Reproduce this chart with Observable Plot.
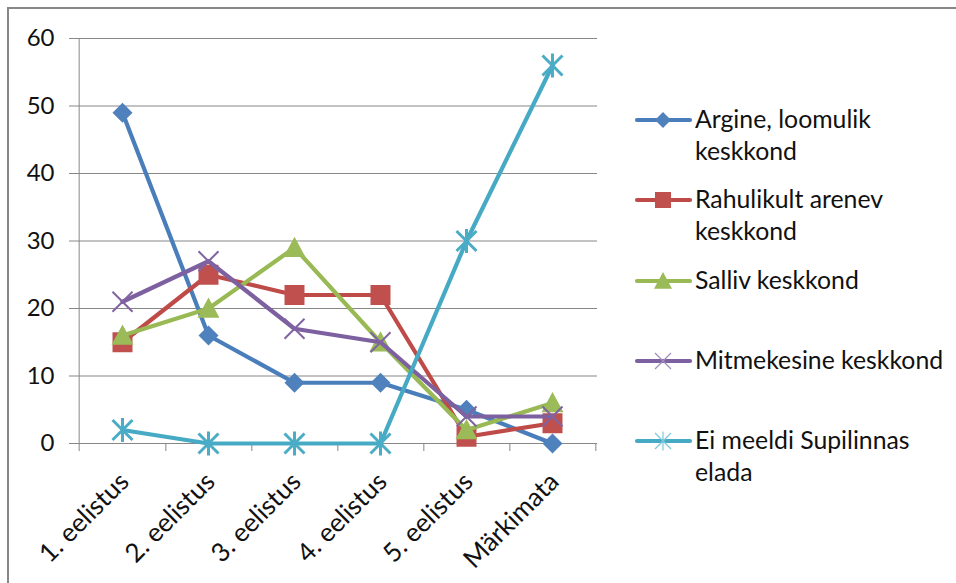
<!DOCTYPE html>
<html><head><meta charset="utf-8">
<script src="https://cdn.jsdelivr.net/npm/d3@7"></script>
<script src="https://cdn.jsdelivr.net/npm/@observablehq/plot@0.6"></script>
<style>
body{margin:0;background:#fff;}
#wrap{position:relative;width:956px;height:583px;overflow:hidden;font-family:Lato,"Open Sans",sans-serif;}
#frame{position:absolute;left:7px;top:7px;width:1000px;height:1000px;border-left:2px solid #878787;border-top:2px solid #878787;}
#chart{position:absolute;left:0;top:0;}
#legend{position:absolute;left:0;top:0;}
</style></head><body>
<div id="wrap"><div id="frame"></div><div id="chart"></div><svg id="legend" width="956" height="583"></svg></div>
<script>
const categories = ["1. eelistus","2. eelistus","3. eelistus","4. eelistus","5. eelistus","Märkimata"];
const seriesNames = ["Argine, loomulik keskkond","Rahulikult arenev keskkond","Salliv keskkond","Mitmekesine keskkond","Ei meeldi Supilinnas elada"];
const legendLines = [["Argine, loomulik","keskkond"],["Rahulikult arenev","keskkond"],["Salliv keskkond"],["Mitmekesine keskkond"],["Ei meeldi Supilinnas","elada"]];
const argine      = [49,16,9,9,5,0];
const rahulikult  = [15,25,22,22,1,3];
const salliv      = [16,20,29,15,2,6];
const mitmekesine = [21,27,17,15,4,4];
const eiMeeldi    = [2,0,0,0,30,56];
const yTicks = [0,10,20,30,40,50,60];

const lineColors   = ["#4A7EBB","#BE4B48","#98B954","#7D60A0","#46AAC5"];
const markerColors = ["#4F81BD","#C0504D","#9BBB59","#8064A2","#4BACC6"];
const allValues = [argine,rahulikult,salliv,mitmekesine,eiMeeldi];

const R = size => Math.sqrt(size/Math.PI);
const symbols = [
  {draw(c,s){const r=R(s);c.moveTo(0,-r);c.lineTo(r,0);c.lineTo(0,r);c.lineTo(-r,0);c.closePath();}},
  {draw(c,s){const r=R(s);c.moveTo(-r,-r);c.lineTo(r,-r);c.lineTo(r,r);c.lineTo(-r,r);c.closePath();}},
  {draw(c,s){const r=R(s);c.moveTo(0,-r);c.lineTo(r,r*0.85);c.lineTo(-r,r*0.85);c.closePath();}},
  {draw(c,s){const r=R(s);c.moveTo(-r,-r);c.lineTo(r,r);c.moveTo(r,-r);c.lineTo(-r,r);}},
  {draw(c,s){const r=R(s);c.moveTo(-r,-r);c.lineTo(r,r);c.moveTo(r,-r);c.lineTo(-r,r);c.moveTo(0,-r*1.2);c.lineTo(0,r*1.2);}}
];
const filled = [true,true,true,false,false];
const markerR = [10,10,11,10,10];
const markerSW = [0,0,0,2,3];

const W=620,H=583,mL=77,mR=23,mT=38,mB=140;
const step=(W-mL-mR)/categories.length;
const grid="#878787";

const marks=[
  Plot.gridY(yTicks,{stroke:grid,strokeOpacity:1,strokeWidth:1}),
  Plot.ruleX([categories[0]],{dx:-step/2,y1:60,y2:0,insetBottom:-8,stroke:grid}),
  Plot.ruleX(categories,{dx:step/2,y1:0,y2:0,insetBottom:-8,stroke:grid}),
  Plot.axisY(yTicks,{tickSize:8,tickPadding:15,stroke:grid,fill:"#111",fontSize:24,label:null}),
  Plot.axisX({tickRotate:-45,tickSize:0,tickPadding:8,dx:2,dy:26,fill:"#111",fontSize:26,label:null})
];
allValues.forEach((vals,k)=>{
  const data=vals.map((v,i)=>({cat:categories[i],value:v}));
  marks.push(Plot.line(data,{x:"cat",y:"value",stroke:lineColors[k],strokeWidth:4.2,strokeLinejoin:"round",strokeLinecap:"round"}));
  marks.push(Plot.dot(data,{x:"cat",y:"value",symbol:symbols[k],r:markerR[k],
    fill:filled[k]?markerColors[k]:"none",stroke:filled[k]?"none":markerColors[k],strokeWidth:markerSW[k]}));
});

const chart=Plot.plot({
  width:W,height:H,marginLeft:mL,marginRight:mR,marginTop:mT,marginBottom:mB,
  style:{fontFamily:"Lato,'Open Sans',sans-serif",fontSize:"24px",color:"#111",background:"transparent",overflow:"visible"},
  x:{type:"point",domain:categories,padding:0.5},
  y:{domain:[0,60]},
  marks
});
document.getElementById("chart").append(chart);

// legend
const lg=d3.select("#legend");
const legY=[120,200,281,361,441];
const legSym=[
  {r:8,fill:true,sw:0},{r:8,fill:true,sw:0},{r:9,fill:true,sw:0},{r:8,fill:false,sw:1.2},{r:8,fill:false,sw:1.2}
];
legendLines.forEach((lines,k)=>{
  const g=lg.append("g").attr("transform",`translate(0,${legY[k]})`);
  g.append("line").attr("x1",637).attr("x2",690).attr("y1",0).attr("y2",0)
    .attr("stroke",lineColors[k]).attr("stroke-width",4.2).attr("stroke-linecap","round");
  const p=d3.path();symbols[k].draw(p,Math.PI*legSym[k].r*legSym[k].r);
  g.append("path").attr("transform","translate(663,0)").attr("d",p.toString())
    .attr("fill",legSym[k].fill?markerColors[k]:"none")
    .attr("stroke",legSym[k].fill?"none":(k===3?"#A08CC0":"#7CC8DC")).attr("stroke-width",legSym[k].sw);
  const t=g.append("text").attr("x",695).attr("y",8).attr("font-size",24.8).attr("fill","#111")
    .attr("font-family","Lato,'Open Sans',sans-serif");
  lines.forEach((ln,j)=>t.append("tspan").attr("x",695).attr("dy",j?32:0).text(ln));
});
</script>
</body></html>
